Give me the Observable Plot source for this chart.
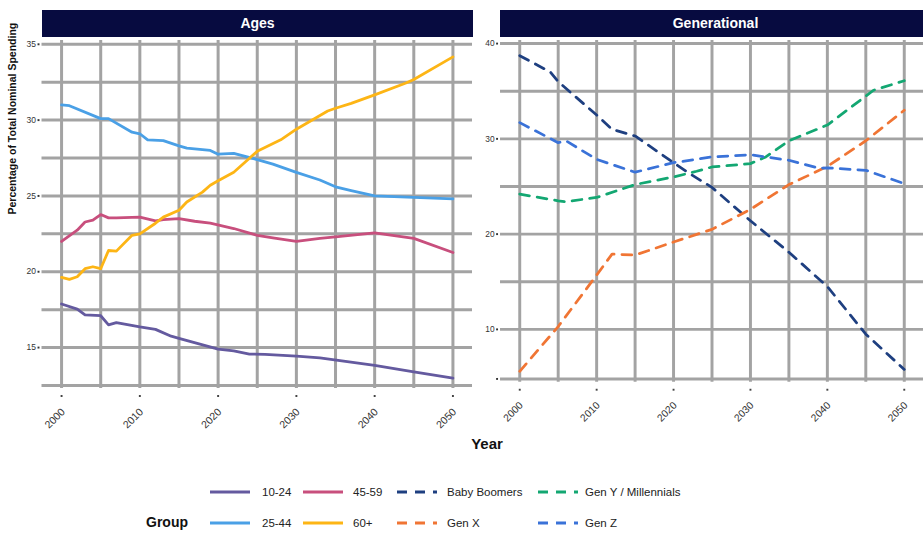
<!DOCTYPE html>
<html><head><meta charset="utf-8">
<script src="https://cdn.jsdelivr.net/npm/d3@7"></script>
<script src="https://cdn.jsdelivr.net/npm/@observablehq/plot@0.6"></script>
<style>
html,body{margin:0;padding:0;background:#fff;overflow:hidden}
#wrap{position:relative;width:923px;height:533px;overflow:hidden;font-family:"Liberation Sans",Arial,sans-serif}
.strip{position:absolute;top:10px;height:27px;background:#070b40;color:#fff;font-weight:bold;font-size:14px;line-height:27px;text-align:center}
.pl{position:absolute;top:37px}
#over{position:absolute;left:0;top:0}
</style>
</head><body>
<div id="wrap">
  <div class="strip" style="left:42px;width:431px">Ages</div>
  <div class="strip" style="left:500px;width:431px">Generational</div>
  <div class="pl" id="left" style="left:0px"></div>
  <div class="pl" id="right" style="left:473px"></div>
  <svg id="over" width="923" height="533"></svg>
</div>
<script>
// ---- data ----
const ageGroups = ["10-24", "25-44", "45-59", "60+"];
const ageColors = ["#645a9f", "#4aa0e6", "#c84f7d", "#fdb515"];
const genGroups = ["Baby Boomers", "Gen X", "Gen Y / Millennials", "Gen Z"];
const genColors = ["#1e3f80", "#f07534", "#13a772", "#3a72d8"];

const ages_10_24 = [[2000,17.87],[2002,17.54],[2003,17.15],[2005,17.1],[2006,16.5],[2007,16.65],[2010,16.36],[2012,16.2],[2014,15.75],[2015,15.6],[2020,14.9],[2022,14.78],[2024,14.57],[2026,14.55],[2030,14.43],[2033,14.32],[2040,13.82],[2045,13.4],[2050,12.99]];
const ages_25_44 = [[2000,31.0],[2001,30.95],[2005,30.1],[2006,30.1],[2009,29.2],[2010,29.1],[2011,28.7],[2013,28.65],[2015,28.3],[2016,28.15],[2019,28.0],[2020,27.75],[2022,27.8],[2025,27.4],[2027,27.1],[2030,26.55],[2033,26.05],[2035,25.6],[2037,25.35],[2040,25.0],[2045,24.9],[2050,24.8]];
const ages_45_59 = [[2000,22.0],[2002,22.74],[2003,23.28],[2004,23.4],[2005,23.77],[2006,23.55],[2007,23.55],[2010,23.6],[2012,23.35],[2013,23.44],[2015,23.5],[2017,23.33],[2019,23.2],[2022,22.85],[2025,22.4],[2027,22.23],[2030,22.0],[2033,22.2],[2035,22.3],[2040,22.56],[2045,22.2],[2050,21.27]];
const ages_60p = [[2000,19.63],[2001,19.5],[2002,19.67],[2003,20.2],[2004,20.33],[2005,20.2],[2006,21.4],[2007,21.36],[2009,22.4],[2010,22.5],[2012,23.2],[2013,23.6],[2015,24.05],[2016,24.6],[2018,25.25],[2019,25.7],[2020,26.0],[2022,26.56],[2025,27.94],[2028,28.7],[2030,29.4],[2034,30.6],[2035,30.78],[2037,31.1],[2040,31.66],[2044,32.45],[2045,32.68],[2050,34.17]];

const gen_boomers = [[2000,38.73],[2004,37.0],[2005,36.0],[2010,32.5],[2012,31.0],[2015,30.3],[2020,27.5],[2022,26.4],[2025,24.9],[2030,21.4],[2035,18.1],[2040,14.5],[2045,9.5],[2050,5.8]];
const gen_x = [[2000,5.6],[2005,10.3],[2010,15.7],[2012,17.9],[2015,17.8],[2020,19.17],[2025,20.5],[2030,22.6],[2035,25.2],[2040,27.1],[2045,29.8],[2050,33.0]];
const gen_y = [[2000,24.2],[2005,23.5],[2006,23.4],[2010,23.85],[2015,25.2],[2020,26.0],[2023,26.6],[2025,27.05],[2030,27.4],[2032,28.1],[2035,29.8],[2040,31.45],[2046,35.1],[2050,36.1]];
const gen_z = [[2000,31.7],[2005,29.6],[2006,29.8],[2010,27.85],[2015,26.5],[2020,27.5],[2025,28.1],[2030,28.33],[2035,27.75],[2039,26.9],[2040,26.95],[2045,26.7],[2050,25.3]];

const xTicks = [2000, 2010, 2020, 2030, 2040, 2050];
const xGrid = [2000, 2005, 2010, 2015, 2020, 2025, 2030, 2035, 2040, 2045, 2050];
const ageYGrid = [12.5, 15, 17.5, 20, 22.5, 25, 27.5, 30, 32.5, 35];
const ageYTicks = [15, 20, 25, 30, 35];
const ageYLabels = [15, 20, 25, 30, 35];
const genYGrid = [4.8, 10, 15, 20, 25, 30, 35, 40];
const genYTicks = [4.8, 10, 20, 30, 40];
const genYLabels = [10, 20, 30, 40];
const yTitle = "Percentage of Total Nominal Spending";
const xTitle = "Year";
const legendTitle = "Group";

// ---- build ----
function rowsOf(series, groups) {
  const rows = [];
  series.forEach((s, i) => s.forEach(([year, value]) => rows.push({group: groups[i], year, value})));
  return rows;
}
const ageRows = rowsOf([ages_10_24, ages_25_44, ages_45_59, ages_60p], ageGroups);
const genRows = rowsOf([gen_boomers, gen_x, gen_y, gen_z], genGroups);

const FONT = '"Liberation Sans", Arial, sans-serif';
const GRID = "#a3a3a3";
const DASH = "10,8";

function panel({rows, groups, colors, yDomain, yGrid, yTicks, yLabels, width, marginLeft, dash, extra = []}) {
  return Plot.plot({
    width, height: 420, marginLeft, marginRight: 0, marginTop: 3, marginBottom: 69,
    x: {domain: [1997.5, 2052.5], axis: null},
    y: {domain: yDomain, axis: null},
    color: {domain: groups, range: colors},
    style: {background: "transparent", fontFamily: FONT, overflow: "visible"},
    marks: [
      Plot.ruleY(yGrid, {y: d => d, stroke: GRID, strokeWidth: 3}),
      Plot.ruleX(xGrid, {x: d => d, stroke: GRID, strokeWidth: 3}),
      Plot.line(rows, {x: "year", y: "value", z: "group", stroke: "group", strokeWidth: 2.8, strokeDasharray: dash}),
      Plot.dot(yTicks, {y: d => d, frameAnchor: "left", dx: -3.5, symbol: "square", r: 1.1, fill: "#333"}),
      Plot.text(yLabels, {y: d => d, text: d => String(d), frameAnchor: "left", dx: -6, textAnchor: "end", fontSize: 8.5, fill: "#333"}),
      Plot.dot(xTicks, {x: d => d, frameAnchor: "bottom", dy: 7.5, symbol: "square", r: 1.1, fill: "#444"}),
      Plot.text(xTicks, {x: d => d, text: d => String(d), frameAnchor: "bottom", dy: 24, dx: 4, rotate: -45, textAnchor: "end", fontSize: 10.5, fill: "#333"}),
      ...extra
    ]
  });
}

document.getElementById("left").append(panel({
  rows: ageRows, groups: ageGroups, colors: ageColors,
  yDomain: [12.3, 35.25], yGrid: ageYGrid, yTicks: ageYTicks, yLabels: ageYLabels,
  width: 472, marginLeft: 41.5, dash: null,
  extra: [Plot.text([yTitle], {text: d => d, frameAnchor: "left", dx: -29.5, rotate: -90, fontWeight: "bold", fontSize: 10.5, fill: "#111"})]
}));
document.getElementById("right").append(panel({
  rows: genRows, groups: genGroups, colors: genColors,
  yDomain: [4.44, 40.33], yGrid: genYGrid, yTicks: genYTicks, yLabels: genYLabels,
  width: 458, marginLeft: 27.5, dash: DASH
}));

// ---- overlay: axis title + legend ----
const over = d3.select("#over");
over.append("text").attr("x", 487).attr("y", 449).attr("text-anchor", "middle")
  .attr("font-family", '"Liberation Sans Narrow", "Liberation Sans", Arial, sans-serif')
  .attr("font-weight", "bold").attr("font-size", 15).attr("fill", "#111").text(xTitle);
over.append("text").attr("x", 146).attr("y", 527)
  .attr("font-family", FONT).attr("font-weight", "bold").attr("font-size", 14).attr("fill", "#111").text(legendTitle);

const legendItems = [
  {name: ageGroups[0], color: ageColors[0], dash: null, col: 0, row: 0},
  {name: ageGroups[1], color: ageColors[1], dash: null, col: 0, row: 1},
  {name: ageGroups[2], color: ageColors[2], dash: null, col: 1, row: 0},
  {name: ageGroups[3], color: ageColors[3], dash: null, col: 1, row: 1},
  {name: genGroups[0], color: genColors[0], dash: DASH, col: 2, row: 0},
  {name: genGroups[1], color: genColors[1], dash: DASH, col: 2, row: 1},
  {name: genGroups[2], color: genColors[2], dash: DASH, col: 3, row: 0},
  {name: genGroups[3], color: genColors[3], dash: DASH, col: 3, row: 1}
];
const colX = [210, 303, 397, 538];
const labX = [262, 353, 447, 585];
const rowY = [492, 523];
legendItems.forEach(it => {
  const y = rowY[it.row];
  over.append("line").attr("x1", colX[it.col]).attr("x2", colX[it.col] + 40).attr("y1", y).attr("y2", y)
    .attr("stroke", it.color).attr("stroke-width", 2.8).attr("stroke-dasharray", it.dash);
  over.append("text").attr("x", labX[it.col]).attr("y", y).attr("dy", "0.35em")
    .attr("font-family", FONT).attr("font-size", 11.5).attr("fill", "#222").text(it.name);
});
</script>
</body></html>
